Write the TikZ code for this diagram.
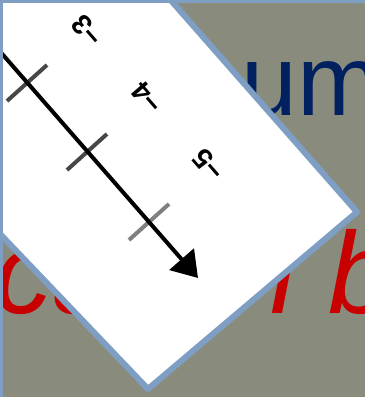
\documentclass[tikz,border=0pt]{standalone}
\usepackage{fontspec}
\setmainfont{Liberation Sans}
\usetikzlibrary{arrows.meta,positioning,calc}
\definecolor{SlideGrey}{RGB}{137,140,125}
\definecolor{FrameBlue}{RGB}{126,158,196}
\definecolor{TitleBlue}{RGB}{0,32,96}
\definecolor{SlideRed}{RGB}{200,0,0}
\tikzset{
  sheet/.style={draw=FrameBlue,fill=white,line width=0.06cm,line join=round},
  frameline/.style={draw=FrameBlue,line width=0.03cm},
  axisline/.style={-{Triangle[length=0.25cm,width=0.32cm]},line width=0.04cm,black},
  tickline/.style={line width=0.04cm,draw=black!72},
  ticklabel/.style={font=\fontsize{8}{9}\selectfont\bfseries,rotate=131,
    inner sep=0pt},
  titletext/.style={font=\fontsize{28.5}{30}\selectfont,text=TitleBlue,inner sep=0pt},
  redtext/.style={font=\fontsize{33}{35}\selectfont\itshape,text=SlideRed,inner sep=0pt}
}

\begin{document}
\begin{tikzpicture}[x=0.01cm,y=-0.01cm]
  \useasboundingbox (0,0) rectangle (365,397);
  \clip (0,0) rectangle (365,397);
  \fill[SlideGrey] (0,0) rectangle (365,397);

  % slide text behind the sheet
  \node[titletext,anchor=base west] (title) at (241,115) {um};
  \node[redtext,anchor=base west] (redleft) at (-6,313) {ca};
  \node[redtext,anchor=base west] (redright) at (270,313) {l b};

  % turned sheet
  \draw[sheet] (153,-20) -- (357,212) -- (148,389) -- (-20,213) -- (-20,-20) -- cycle;

  % number line
  \coordinate (axisstart) at (-10,40);
  \coordinate (axisend) at (198,278);
  \coordinate (tickAa) at (7,101);
  \coordinate (tickAb) at (47,65);
  \coordinate (tickBa) at (67,170);
  \coordinate (tickBb) at (107,134);
  \coordinate (tickCa) at (129,240);
  \coordinate (tickCb) at (169,204);
  \draw[tickline] (tickAa) -- (tickAb);
  \draw[tickline] (tickBa) -- (tickBb);
  \draw[tickline,draw=black!50] (tickCa) -- (tickCb);
  \draw[axisline] (axisstart) -- (axisend);

  \node[ticklabel] (labthree) at (87,31) {−3};
  \node[ticklabel] (labfour) at (147,98) {−4};
  \node[ticklabel] (labfive) at (209,165) {−5};

  \draw[frameline] (1.5,397) -- (1.5,1.5) -- (365,1.5);
\end{tikzpicture}
\end{document}
